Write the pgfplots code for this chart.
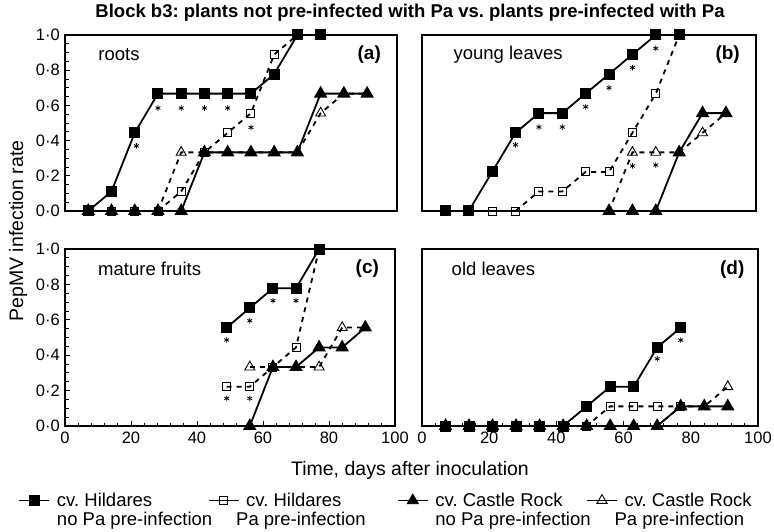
\documentclass[border=0pt]{standalone}
\usepackage{fontspec}
\setmainfont{Liberation Sans}
\usepackage{pgfplots}
\pgfplotsset{compat=1.18}
\frenchspacing
\tikzset{
  plab/.style={anchor=west, font=\fontsize{18.5}{20}\selectfont},
  pid/.style={anchor=east, font=\bfseries\fontsize{19}{20}\selectfont},
}
\newcommand{\legtext}[3]{\raisebox{0pt}[\height][0pt]{\makebox[#1][l]{\begin{tabular}[t]{@{}l@{}}#2\\#3\end{tabular}}}}
\begin{document}
\begin{tikzpicture}[x=1pt,y=1pt]
\useasboundingbox (0,0) rectangle (774,531);
\pgfplotsset{
  panel/.style={scale only axis, height=176pt, xmin=0, xmax=100, ymin=0, ymax=1,
    clip=false, anchor=south west,
    axis line style={line width=1.5pt},
    tick align=inside, xtick pos=bottom, ytick pos=left,
    tick style={black, line width=0.9pt},
    major tick length=5pt, minor tick length=3.5pt,
    xtick={0,20,...,100}, minor x tick num=4,
    ytick={0,0.2,0.4,0.6,0.8,1}, minor y tick num=3,
    every tick label/.append style={inner sep=0pt, font=\fontsize{16.5}{18}\selectfont},
    yticklabel style={xshift=-5pt},
    xticklabel style={yshift=-6pt},
    yticklabels={0·0,0·2,0·4,0·6,0·8,1·0},
    xticklabels={0,20,40,60,80,100},
  },
  nox/.style={xtick=\empty, xticklabels={}},
  noy/.style={ytick=\empty, yticklabels={}},
  hnp/.style={black, solid, line width=1.8pt, mark=square*, mark size=4.6pt, mark options={solid}},
  hp/.style={black, dash pattern=on 5pt off 5pt, line width=1.8pt, mark=square, mark size=4pt, mark options={solid, line width=0.9pt, fill=none}},
  crnp/.style={black, solid, line width=1.8pt, mark=triangle*, mark size=6pt, mark options={solid}},
  crp/.style={black, dash pattern=on 5pt off 5pt, line width=1.8pt, mark=triangle, mark size=5.8pt, mark options={solid, line width=0.9pt, fill=none}},
  star/.style={black, only marks, mark=asterisk, mark size=2.8pt, mark options={line width=0.8pt}},
}

% (a) roots
\begin{axis}[panel, nox, width=332pt, at={(65pt,320pt)}]
\addplot[crp, forget plot] coordinates {(7,0)(14,0)(21,0)(28,0)(35,0.333)(42,0.333)(49,0.333)(56,0.333)(63,0.333)(70,0.333)(77,0.556)(84,0.667)(91,0.667)};
\addplot[hp, forget plot] coordinates {(7,0)(14,0)(21,0)(28,0)(35,0.111)(42,0.333)(49,0.444)(56,0.556)(63,0.889)(70,1)(77,1)};
\addplot[crnp, forget plot] coordinates {(7,0)(14,0)(21,0)(28,0)(35,0)(42,0.333)(49,0.333)(56,0.333)(63,0.333)(70,0.333)(77,0.667)(84,0.667)(91,0.667)};
\addplot[hnp, forget plot] coordinates {(7,0)(14,0.111)(21,0.444)(28,0.667)(35,0.667)(42,0.667)(49,0.667)(56,0.667)(63,0.778)(70,1)(77,1)};
\addplot[star, forget plot] coordinates {(21.5,0.37)(28,0.585)(35,0.585)(42,0.585)(49,0.585)(56,0.475)};
\node[plab] at (rel axis cs:0.09,0.886) {roots};
\node[pid] at (rel axis cs:0.962,0.886) {(a)};
\end{axis}

% (b) young leaves
\begin{axis}[panel, nox, noy, width=334pt, at={(422pt,320pt)}]
\addplot[crp, forget plot] coordinates {(56,0)(63,0.333)(70,0.333)(77,0.333)(84,0.444)(91,0.556)};
\addplot[hp, forget plot] coordinates {(7,0)(14,0)(21,0)(28,0)(35,0.111)(42,0.111)(49,0.222)(56,0.222)(63,0.444)(70,0.667)(77,1)};
\addplot[crnp, forget plot] coordinates {(56,0)(63,0)(70,0)(77,0.333)(84,0.556)(91,0.556)};
\addplot[hnp, forget plot] coordinates {(7,0)(14,0)(21,0.222)(28,0.444)(35,0.556)(42,0.556)(49,0.667)(56,0.778)(63,0.889)(70,1)(77,1)};
\addplot[star, forget plot] coordinates {(28,0.376)(35,0.477)(42,0.477)(49,0.592)(56,0.70)(63,0.815)(70,0.924)(63,0.256)(70,0.261)};
\node[plab] at (rel axis cs:0.084,0.886) {young leaves};
\node[pid] at (rel axis cs:0.962,0.886) {(b)};
\end{axis}

% (c) mature fruits
\begin{axis}[panel, width=330pt, height=177pt, at={(65pt,105pt)},
  legend columns=4,
  legend image code/.code={\draw[mark repeat=2,mark phase=2,#1] plot coordinates {(0pt,0pt)(15pt,0pt)(30pt,0pt)};},
  legend image post style={solid, line width=1.2pt},
  legend style={at={(axis description cs:-0.14,-0.367)}, anchor=north west, draw=none, fill=none,
    inner sep=0pt, outer sep=0pt, font=\fontsize{18.5}{19}\selectfont,
    cells={anchor=west},
    /tikz/every odd column/.style={column sep=5pt},
    /tikz/every even column/.style={column sep=0pt}},
]
\addlegendimage{hnp}
\addlegendentry{\legtext{149pt}{cv. Hildares}{no Pa pre-infection}}
\addlegendimage{hp}
\addlegendentry{\legtext{149pt}{cv. Hildares}{\hspace*{-10pt}Pa pre-infection}}
\addlegendimage{crnp}
\addlegendentry{\legtext{149pt}{cv. Castle Rock}{no Pa pre-infection}}
\addlegendimage{crp}
\addlegendentry{\legtext{140pt}{cv. Castle Rock}{\hspace*{-10pt}Pa pre-infection}}
\addplot[crp, forget plot] coordinates {(56,0.333)(63,0.333)(70,0.333)(77,0.333)(84,0.556)(91,0.556)};
\addplot[hp, forget plot] coordinates {(49,0.222)(56,0.222)(63,0.333)(70,0.444)(77,1)};
\addplot[crnp, forget plot] coordinates {(56,0)(63,0.333)(70,0.333)(77,0.444)(84,0.444)(91,0.556)};
\addplot[hnp, forget plot] coordinates {(49,0.556)(56,0.667)(63,0.778)(70,0.778)(77,1)};
\addplot[star, forget plot] coordinates {(49,0.486)(56,0.595)(63,0.708)(70,0.708)(49,0.156)(56,0.156)};
\node[plab] at (rel axis cs:0.09,0.887) {mature fruits};
\node[pid] at (rel axis cs:0.962,0.887) {(c)};
\end{axis}

% (d) old leaves
\begin{axis}[panel, noy, width=336pt, height=177pt, at={(422pt,105pt)}]
\addplot[crp, forget plot] coordinates {(7,0)(14,0)(21,0)(28,0)(35,0)(42,0)(49,0)(56,0)(63,0)(70,0)(77,0.111)(84,0.111)(91,0.222)};
\addplot[hp, forget plot] coordinates {(7,0)(14,0)(21,0)(28,0)(35,0)(42,0)(49,0)(56,0.111)(63,0.111)(70,0.111)(77,0.111)};
\addplot[crnp, forget plot] coordinates {(7,0)(14,0)(21,0)(28,0)(35,0)(42,0)(49,0)(56,0)(63,0)(70,0)(77,0.111)(84,0.111)(91,0.111)};
\addplot[hnp, forget plot] coordinates {(7,0)(14,0)(21,0)(28,0)(35,0)(42,0)(49,0.111)(56,0.222)(63,0.222)(70,0.444)(77,0.556)};
\addplot[star, forget plot] coordinates {(70,0.38)(77,0.485)};
\node[plab] at (rel axis cs:0.078,0.885) {old leaves};
\node[pid] at (rel axis cs:0.97,0.885) {(d)};
\end{axis}

\node[anchor=base, font=\bfseries\fontsize{18.5}{20}\selectfont] at (410,513) {Block b3: plants not pre-infected with Pa vs. plants pre-infected with Pa};
\node[anchor=base, font=\fontsize{19.5}{21}\selectfont] at (410,56) {Time, days after inoculation};
\node[rotate=90, anchor=center, font=\fontsize{19.5}{21}\selectfont] at (18,300) {PepMV infection rate};
\end{tikzpicture}
\end{document}
